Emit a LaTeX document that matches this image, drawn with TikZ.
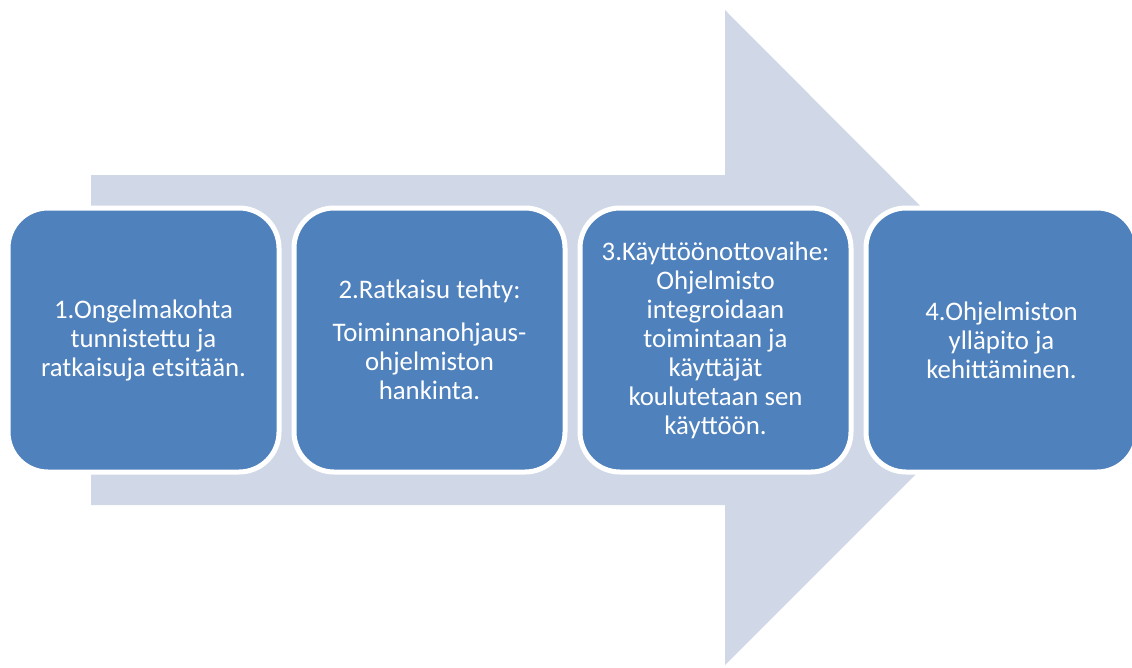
\documentclass[tikz,border=0pt]{standalone}
\usepackage{fontspec}
\setmainfont{Carlito}
\definecolor{arrowfill}{HTML}{D0D8E8}
\definecolor{boxfill}{HTML}{4F81BD}
\tikzset{
  stagebox/.style={draw=white, line width=5pt, fill=boxfill, rounded corners=40pt,
    minimum width=271pt, minimum height=264pt, inner sep=0pt,
    text=white, align=center, font=\fontsize{26.8}{29}\selectfont}
}
\begin{document}
\begin{tikzpicture}[x=1pt,y=-1pt]
\useasboundingbox (0,0) rectangle (1132,667);
% big background arrow
\fill[arrowfill] (91,175) -- (725,175) -- (725,10) -- (1052,338) -- (725,665) -- (725,505) -- (91,505) -- cycle;
% stage boxes
\node[stagebox] (b1) at (143.5,340) {1.Ongelmakohta\\tunnistettu ja\\ratkaisuja etsitään.};
\node[stagebox] (b2) at (429.5,340) {2.Ratkaisu tehty:\\[14pt]Toiminnanohjaus-\\ohjelmiston\\hankinta.};
\node[stagebox] (b3) at (715.5,340) {3.Käyttöönottovaihe:\\Ohjelmisto\\integroidaan\\toimintaan ja\\käyttäjät\\koulutetaan sen\\käyttöön.};
\node[stagebox] (b4) at (1001.5,340) {4.Ohjelmiston\\ylläpito ja\\kehittäminen.};
\end{tikzpicture}
\end{document}
